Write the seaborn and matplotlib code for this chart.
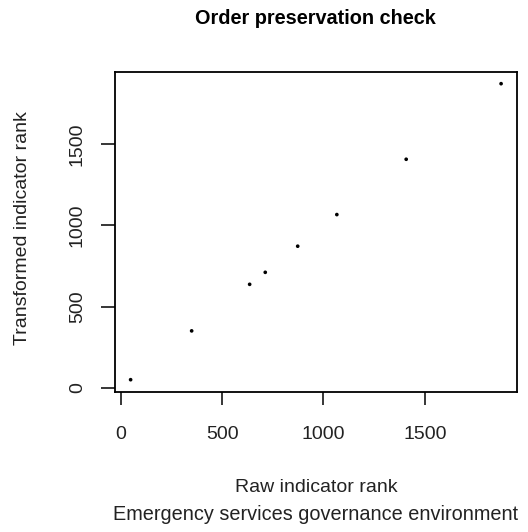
import pandas as pd
import seaborn as sns
import matplotlib
matplotlib.use("Agg")
import matplotlib.pyplot as plt

# ranks
raw_rank = [49, 350, 636, 713, 873, 1066, 1408, 1876]
transformed_rank = [49, 350, 637, 711, 872, 1067, 1408, 1874]
ticks = [0, 500, 1000, 1500]

df = pd.DataFrame({"raw": raw_rank, "transformed": transformed_rank})

sns.set_style("ticks")
plt.rcParams["font.family"] = ["Liberation Sans", "DejaVu Sans"]
plt.rcParams["text.color"] = "black"

W, H = 528, 532
fig = plt.figure(figsize=(W / 100, H / 100), dpi=100)
ax = fig.add_axes([115 / W, 1 - 391.7 / H, (516.7 - 115) / W, (391.7 - 72) / H])

sns.scatterplot(data=df, x="raw", y="transformed", ax=ax, color="black",
                s=7, marker="o", edgecolor="none", linewidth=0)

ax.set_xlim(-28, 1953)
ax.set_ylim(-25, 1946)
ax.set_xticks(ticks)
ax.set_yticks(ticks)
ax.set_xticklabels([str(t) for t in ticks], fontsize=14)
ax.set_yticklabels([str(t) for t in ticks], fontsize=14, rotation=90, va="center")
ax.tick_params(axis="x", length=9, width=1.1, pad=15.5, colors="black", labelcolor="#222222")
ax.tick_params(axis="y", length=10, width=1.1, pad=11, colors="black", labelcolor="#222222")
for sp in ax.spines.values():
    sp.set_visible(True)
    sp.set_linewidth(1.3)
    sp.set_color("black")
ax.set_xlabel("")
ax.set_ylabel("")

fig.text(315 / W, 1 - 18 / H, "Order preservation check", ha="center", va="center",
         fontsize=14.3, fontweight="bold", color="black")
fig.text(316 / W, 1 - 488 / H, "Raw indicator rank", ha="center", va="center",
         fontsize=14, color="#222222")
fig.text(316 / W, 1 - 514 / H, "Emergency services governance environment", ha="center",
         va="center", fontsize=14.3, color="#222222")
fig.text(23 / W, 1 - 228 / H, "Transformed indicator rank", ha="center", va="center",
         rotation=90, fontsize=14, color="#222222")

fig.savefig("out.png", dpi=100, facecolor="white")
